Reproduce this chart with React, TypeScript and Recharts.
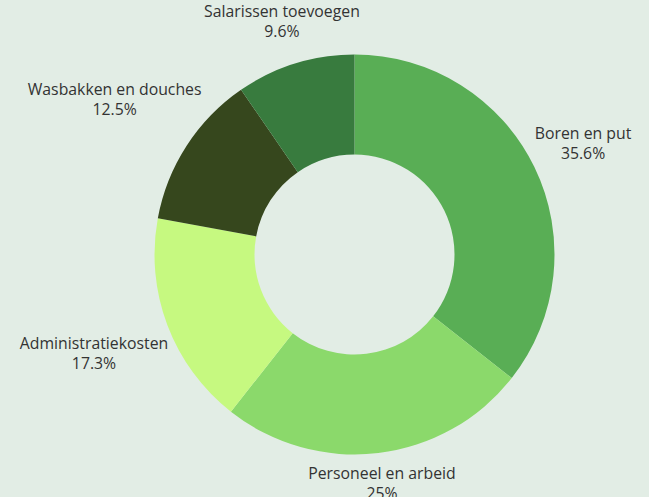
import { PieChart, Pie, Cell } from "recharts";

const categories = [
  "Boren en put",
  "Personeel en arbeid",
  "Administratiekosten",
  "Wasbakken en douches",
  "Salarissen toevoegen",
];
const shares = [35.6, 25, 17.3, 12.5, 9.6];
const colors = ["#59ae55", "#8bd96b", "#c6f980", "#36471d", "#387b3e"];

const data = categories.map((name, i) => ({ name, value: shares[i] }));

const RADIAN = Math.PI / 180;
const FONT_SIZE = 15.8;
const FONT = `${FONT_SIZE}px 'Open Sans'`;

let ctx: CanvasRenderingContext2D | null = null;
function textWidth(s: string) {
  if (!ctx) ctx = document.createElement("canvas").getContext("2d");
  if (!ctx) return s.length * 8.6;
  ctx.font = FONT;
  return ctx.measureText(s).width;
}

// label box sits just outside the ring, pushed out by its own half size
function renderLabel(props: any) {
  const { cx, cy, midAngle, outerRadius } = props;
  const name = props.name ?? props.payload?.name;
  const pct = `${props.value}%`;
  const dx = Math.cos(-midAngle * RADIAN);
  const dy = Math.sin(-midAngle * RADIAN);
  const halfW = Math.max(textWidth(name), textWidth(pct)) / 2;
  const halfH = 20;
  const r = outerRadius + 2 + Math.abs(dx) * halfW + Math.abs(dy) * halfH;
  const x = cx + r * dx;
  const y = cy + r * dy;
  return (
    <text
      x={x}
      y={y}
      textAnchor="middle"
      fill="#333"
      fontFamily="'Open Sans', sans-serif"
      fontSize={FONT_SIZE}
    >
      <tspan x={x} y={y - 10} dominantBaseline="central">
        {name}
      </tspan>
      <tspan x={x} y={y + 10} dominantBaseline="central">
        {pct}
      </tspan>
    </text>
  );
}

export default function App() {
  return (
    <div
      style={{
        position: "absolute",
        left: 0,
        top: 0,
        width: 649,
        height: 497,
        background: "#e2ede5",
      }}
    >
      <PieChart width={649} height={497} margin={{ top: 0, right: 0, bottom: 0, left: 0 }}>
        <Pie
          data={data}
          dataKey="value"
          nameKey="name"
          cx={354.5}
          cy={254.5}
          innerRadius={100}
          outerRadius={200}
          startAngle={90}
          endAngle={-270}
          stroke="none"
          label={renderLabel}
          labelLine={false}
          isAnimationActive={false}
        >
          {data.map((d, i) => (
            <Cell key={d.name} fill={colors[i]} />
          ))}
        </Pie>
      </PieChart>
    </div>
  );
}
